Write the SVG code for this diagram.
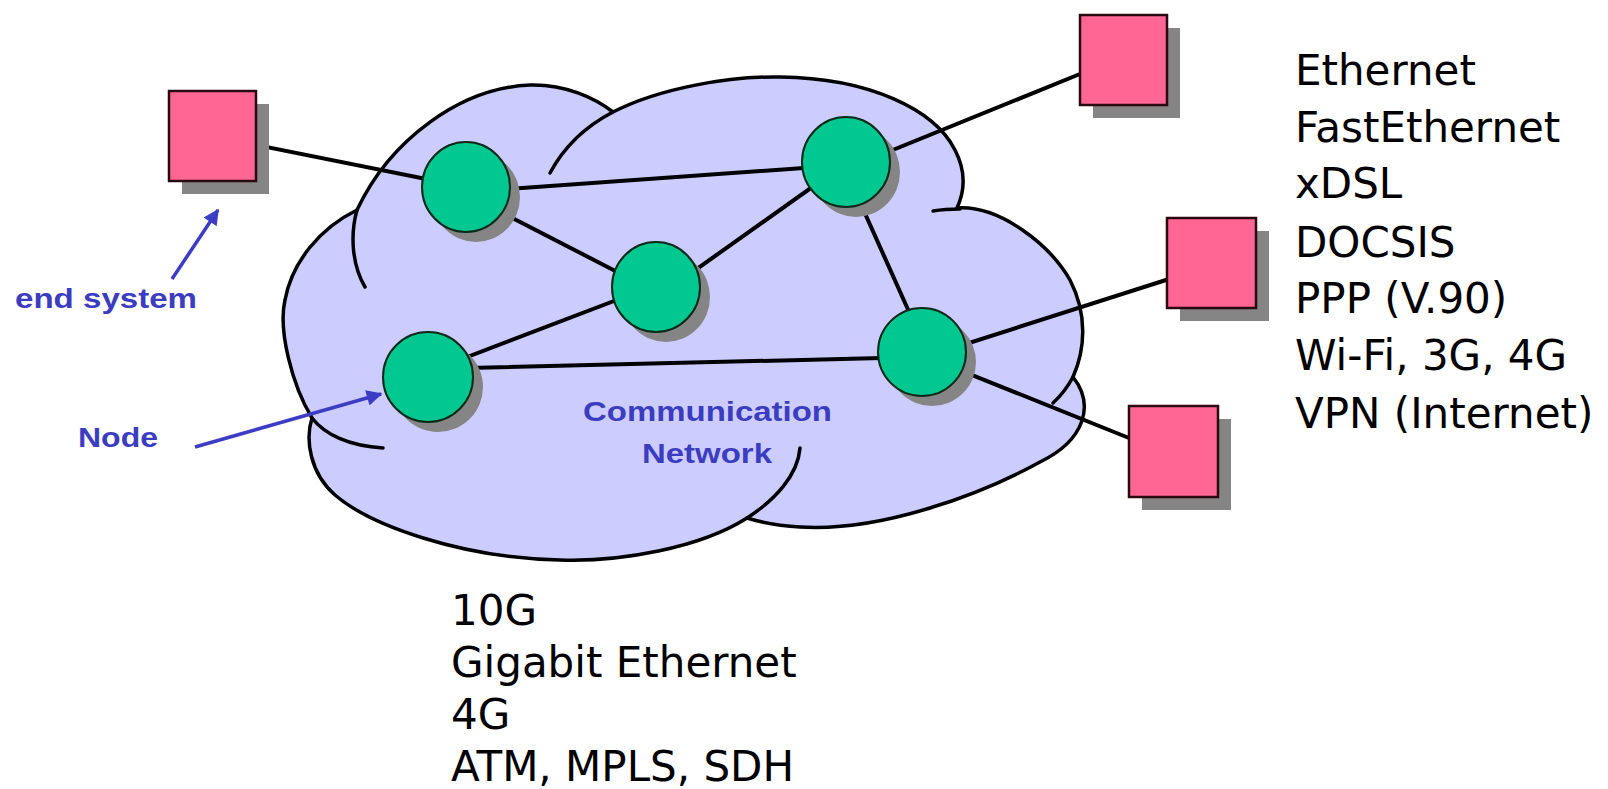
<svg xmlns="http://www.w3.org/2000/svg" width="1608" height="789" viewBox="0 0 1608 789">
<defs>
<style>
.cloud{fill:#ccccff;stroke:#000;stroke-width:3.5}
.arc{fill:none;stroke:#000;stroke-width:3.5;stroke-linecap:round}
.link{stroke:#000;stroke-width:4;stroke-linecap:round}
.shadow{fill:#858585}
.router{fill:#00c890;stroke:#0a2a1a;stroke-width:2}
.host{fill:#ff6694;stroke:#2a0a10;stroke-width:2.5}
.lbl{font-family:"Liberation Sans",Arial,sans-serif;font-weight:bold;font-size:28px;fill:#3c3cc0}
.list{font-family:"DejaVu Sans",Verdana,sans-serif;font-size:42px;fill:#000}
.ptr{stroke:#3c3cc4;stroke-width:3.5;fill:none}
</style>
<marker id="ah" viewBox="0 0 10 10" refX="9" refY="5" markerWidth="5" markerHeight="4.5" markerUnits="strokeWidth" orient="auto">
<path d="M0,0 L10,5 L0,10 z" fill="#3c3cc4"/>
</marker>
</defs>

<g id="cloud">
<path class="cloud" d="M613,112 C660,88 730,76 780,77 C870,78 935,110 955,150 C968,175 963,195 957,208 C1000,205 1050,245 1070,280 C1088,315 1085,350 1073,377 C1095,405 1085,440 1040,462 C980,495 880,532 800,527 C782,526 760,522 747,518 C700,548 620,562 560,560 C460,558 370,525 335,495 C310,473 305,440 312,418 C292,385 278,330 285,300 C292,262 320,228 357,210 C390,140 460,88 530,85 C565,84 595,98 613,112 Z"/>
<path class="arc" d="M357,210 C350,235 352,265 365,287"/>
<path class="arc" d="M550,173 C565,145 588,125 613,112"/>
<path class="arc" d="M933,211 Q945,209 960,209"/>
<path class="arc" d="M1073,377 Q1065,392 1053,403"/>
<path class="arc" d="M312,418 C325,435 350,446 383,448"/>
<path class="arc" d="M747,518 C775,500 798,475 800,448"/>
</g>

<g id="connectors">
<line class="link" x1="212" y1="136" x2="466" y2="187"/>
<line class="link" x1="466" y1="192" x2="846" y2="165"/>
<line class="link" x1="466" y1="194" x2="656" y2="292"/>
<line class="link" x1="656" y1="298" x2="846" y2="163"/>
<line class="link" x1="428" y1="372" x2="656" y2="285"/>
<line class="link" x1="428" y1="369" x2="922" y2="357"/>
<line class="link" x1="842" y1="162" x2="927" y2="352"/>
<line class="link" x1="846" y1="169" x2="1080" y2="74"/>
<line class="link" x1="922" y1="358" x2="1166" y2="280"/>
<line class="link" x1="922" y1="355" x2="1129" y2="438"/>
<line class="ptr" x1="172" y1="279" x2="218" y2="210" marker-end="url(#ah)"/>
<line class="ptr" x1="195" y1="447" x2="381" y2="394" marker-end="url(#ah)"/>
</g>

<g id="router1"><ellipse class="shadow" cx="476" cy="197" rx="44" ry="45"/><ellipse class="router" cx="466" cy="187" rx="44" ry="45"/></g>
<g id="router2"><ellipse class="shadow" cx="666" cy="297" rx="44" ry="45"/><ellipse class="router" cx="656" cy="287" rx="44" ry="45"/></g>
<g id="router3"><ellipse class="shadow" cx="856" cy="172" rx="44" ry="45"/><ellipse class="router" cx="846" cy="162" rx="44" ry="45"/></g>
<g id="router4"><ellipse class="shadow" cx="932" cy="362" rx="44" ry="44"/><ellipse class="router" cx="922" cy="352" rx="44" ry="44"/></g>
<g id="router5"><ellipse class="shadow" cx="438" cy="387" rx="45" ry="45"/><ellipse class="router" cx="428" cy="377" rx="45" ry="45"/></g>

<g id="host-left"><rect class="shadow" x="182" y="104" width="87" height="90"/><rect class="host" x="169" y="91" width="87" height="90"/></g>
<g id="host-top-right"><rect class="shadow" x="1093" y="28" width="87" height="90"/><rect class="host" x="1080" y="15" width="87" height="90"/></g>
<g id="host-mid-right"><rect class="shadow" x="1180" y="231" width="89" height="90"/><rect class="host" x="1167" y="218" width="89" height="90"/></g>
<g id="host-bottom-right"><rect class="shadow" x="1142" y="419" width="89" height="91"/><rect class="host" x="1129" y="406" width="89" height="91"/></g>

<g id="labels">
<text class="lbl" x="15" y="308" textLength="182" lengthAdjust="spacingAndGlyphs">end system</text>
<text class="lbl" x="78" y="447" textLength="80" lengthAdjust="spacingAndGlyphs">Node</text>
<text class="lbl" x="583" y="421" textLength="249" lengthAdjust="spacingAndGlyphs">Communication</text>
<text class="lbl" x="642" y="463" textLength="130" lengthAdjust="spacingAndGlyphs">Network</text>
</g>

<g id="access-list">
<text class="list" x="1295" y="85">Ethernet</text>
<text class="list" x="1295" y="142">FastEthernet</text>
<text class="list" x="1295" y="198">xDSL</text>
<text class="list" x="1295" y="257">DOCSIS</text>
<text class="list" x="1295" y="313">PPP (V.90)</text>
<text class="list" x="1295" y="370">Wi-Fi, 3G, 4G</text>
<text class="list" x="1295" y="428">VPN (Internet)</text>
</g>

<g id="core-list">
<text class="list" x="451" y="625">10G</text>
<text class="list" x="451" y="677">Gigabit Ethernet</text>
<text class="list" x="451" y="729">4G</text>
<text class="list" x="451" y="781">ATM, MPLS, SDH</text>
</g>
</svg>
